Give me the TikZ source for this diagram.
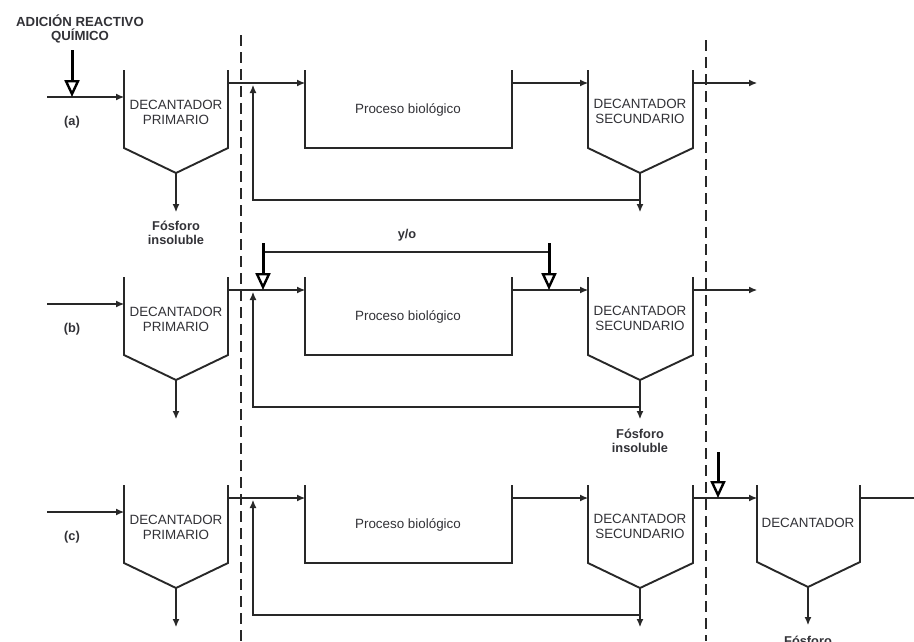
\documentclass[tikz,border=0pt]{standalone}
\usepackage{fontspec}
\setmainfont{Liberation Sans}
\usetikzlibrary{arrows.meta}
\definecolor{ink}{RGB}{40,40,40}
\definecolor{txt}{RGB}{50,50,55}
\begin{document}
\begin{tikzpicture}[x=1pt,y=-1pt,
  tank/.style={draw=ink, line width=1.9pt, line join=miter},
  flow/.style={draw=ink, line width=1.1pt, -{Latex[length=8pt,width=7pt]}},
  plain/.style={draw=ink, line width=1.1pt},
  dose/.style={draw=black, line width=3pt, -{Triangle[open,length=17pt,width=15pt,line width=2.4pt]}},
  sep/.style={draw=ink, line width=2.2pt, dash pattern=on 11pt off 6pt},
  lbl/.style={font=\fontsize{13.4}{15}\selectfont, text=txt, align=center, inner sep=0pt},
  blbl/.style={font=\bfseries\fontsize{12.8}{14.5}\selectfont, text=txt, align=center, inner sep=0pt}]
\useasboundingbox (0,0) rectangle (914,641);
\fill[white] (0,0) rectangle (914,641);

\foreach \r/\dy in {a/0,b/207,c/415}{
 \begin{scope}[yshift=-\dy pt]
  % inflow
  \coordinate (\r-in) at (47,97);
  \coordinate (\r-pin) at (124,97);
  % primary decanter
  \coordinate (\r-ptl) at (124,70);
  \coordinate (\r-pbl) at (124,148);
  \coordinate (\r-pv) at (176,173);
  \coordinate (\r-pbr) at (228,148);
  \coordinate (\r-ptr) at (228,70);
  \coordinate (\r-pout) at (176,212);
  % effluent
  \coordinate (\r-eff) at (228,83);
  \coordinate (\r-bin) at (305,83);
  % biological tank
  \coordinate (\r-btl) at (305,70);
  \coordinate (\r-bbl) at (305,148);
  \coordinate (\r-bbr) at (512,148);
  \coordinate (\r-btr) at (512,70);
  \coordinate (\r-bout) at (512,83);
  \coordinate (\r-sin) at (588,83);
  % secondary decanter
  \coordinate (\r-stl) at (588,70);
  \coordinate (\r-sbl) at (588,148);
  \coordinate (\r-sv) at (640,173);
  \coordinate (\r-sbr) at (693,148);
  \coordinate (\r-str) at (693,70);
  \coordinate (\r-sout) at (640,212);
  \coordinate (\r-seff) at (693,83);
  \coordinate (\r-send) at (757,83);
  % recycle
  \coordinate (\r-rv) at (640,200);
  \coordinate (\r-rl) at (253,200);
  \coordinate (\r-rtip) at (253,85);

  \draw[flow] (\r-in) -- (\r-pin);
  \draw[tank] (\r-ptl) -- (\r-pbl) -- (\r-pv) -- (\r-pbr) -- (\r-ptr);
  \draw[flow] (\r-pv) -- (\r-pout);
  \draw[flow] (\r-eff) -- (\r-bin);
  \draw[tank] (\r-btl) -- (\r-bbl) -- (\r-bbr) -- (\r-btr);
  \draw[flow] (\r-bout) -- (\r-sin);
  \draw[tank] (\r-stl) -- (\r-sbl) -- (\r-sv) -- (\r-sbr) -- (\r-str);
  \draw[flow] (\r-sv) -- (\r-sout);
  \draw[flow] (\r-seff) -- (\r-send);
  \draw[flow] (\r-rv) -- (\r-rl) -- (\r-rtip);

  \node[blbl] (\r-lab) at (72,122) {(\r)};
  \node[lbl] (\r-ptxt) at (176,112) {DECANTADOR\\PRIMARIO};
  \node[lbl] (\r-btxt) at (408,110) {Proceso biológico};
  \node[lbl] (\r-stxt) at (640,111) {DECANTADOR\\SECUNDARIO};
 \end{scope}
}

% separators
\coordinate (d1t) at (241,35);
\coordinate (d1b) at (241,641);
\coordinate (d2t) at (706,40);
\coordinate (d2b) at (706,641);
\draw[sep] (d1t) -- (d1b);
\draw[sep] (d2t) -- (d2b);

% row (a): chemical addition before primary
\node[blbl, font=\bfseries\fontsize{13.2}{14.5}\selectfont] (title) at (80,29) {ADICIÓN REACTIVO\\QUÍMICO};
\coordinate (a-dtop) at (72,50);
\coordinate (a-dtip) at (72,97);
\draw[dose] (a-dtop) -- (a-dtip);
\node[blbl] (a-fos) at (176,233) {Fósforo\\insoluble};

% row (b): addition before and/or after biological process
\coordinate (b-d1top) at (263,243);
\coordinate (b-d1tip) at (263,290);
\coordinate (b-d2top) at (549,243);
\coordinate (b-d2tip) at (549,290);
\coordinate (b-y1) at (263,252);
\coordinate (b-y2) at (549,252);
\draw[plain] (b-y1) -- (b-y2);
\draw[dose] (b-d1top) -- (b-d1tip);
\draw[dose] (b-d2top) -- (b-d2tip);
\node[blbl] (b-yo) at (407,235) {y/o};
\node[blbl] (b-fos) at (640,441) {Fósforo\\insoluble};

% row (c): tertiary decanter
\coordinate (c-dtop) at (718,452);
\coordinate (c-dtip) at (718,498);
\draw[dose] (c-dtop) -- (c-dtip);
\coordinate (c-ttl) at (757,485);
\coordinate (c-tbl) at (757,562);
\coordinate (c-tv) at (808,587);
\coordinate (c-tbr) at (860,562);
\coordinate (c-ttr) at (860,485);
\coordinate (c-tout) at (808,625);
\coordinate (c-teff) at (860,498);
\coordinate (c-tend) at (914,498);
\draw[tank] (c-ttl) -- (c-tbl) -- (c-tv) -- (c-tbr) -- (c-ttr);
\draw[flow] (c-tv) -- (c-tout);
\draw[plain] (c-teff) -- (c-tend);
\node[lbl] (c-ttxt) at (808,523) {DECANTADOR};
\node[blbl] (c-fos) at (808,641) {Fósforo};
\end{tikzpicture}
\end{document}
